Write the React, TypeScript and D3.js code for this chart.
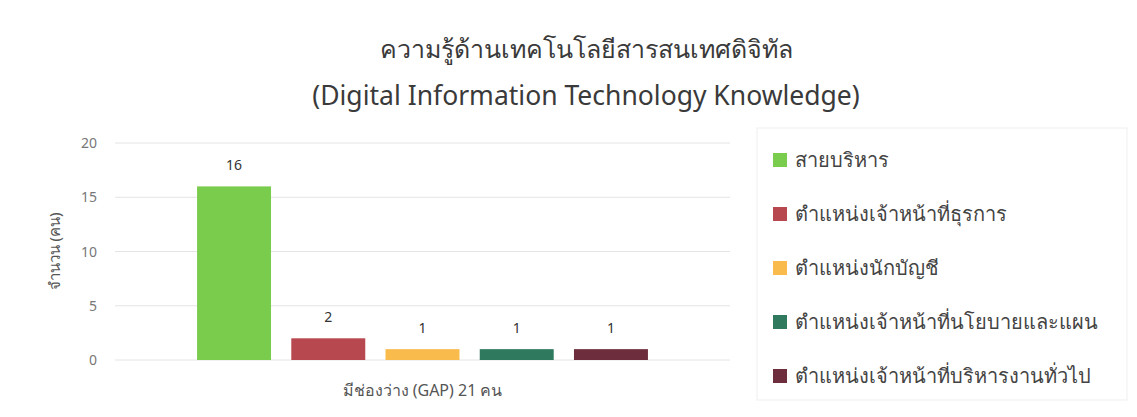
import React from "react";
import * as d3 from "d3";

const categories = ["มีช่องว่าง (GAP) 21 คน"];
const seriesNames = [
  "สายบริหาร",
  "ตำแหน่งเจ้าหน้าที่ธุรการ",
  "ตำแหน่งนักบัญชี",
  "ตำแหน่งเจ้าหน้าที่นโยบายและแผน",
  "ตำแหน่งเจ้าหน้าที่บริหารงานทั่วไป",
];
const seriesValues = [16, 2, 1, 1, 1];
const seriesColors = ["#79cc4c", "#b8484f", "#f9bb4c", "#2f7a5f", "#6e2d3c"];
const yTicks = [0, 5, 10, 15, 20];
const titleLines = ["ความรู้ด้านเทคโนโลยีสารสนเทศดิจิทัล", "(Digital Information Technology Knowledge)"];
const yTitle = "จำนวน (คน)";

const W = 1137;
const H = 417;
const plot = { left: 115, right: 730, top: 143, bottom: 360 };
const FONT = "'Noto Sans', 'DejaVu Sans', sans-serif";

export default function App() {
  const y = d3.scaleLinear().domain([0, 20]).range([plot.bottom, plot.top]);
  const x0 = d3.scaleBand().domain(categories).range([plot.left, plot.right]).paddingInner(0).paddingOuter(0.182);
  const x1 = d3
    .scaleBand()
    .domain(seriesNames)
    .range([0, x0.bandwidth()])
    .paddingInner(0.215)
    .paddingOuter(0);

  return (
    <svg width={W} height={H} style={{ position: "absolute", left: 0, top: 0, background: "#fff" }}>
      <rect x={0} y={0} width={W} height={H} fill="#ffffff" />
      {titleLines.map((t, i) => (
        <text
          key={i}
          x={586}
          y={i === 0 ? 58 : 105}
          textAnchor="middle"
          fontFamily={FONT}
          fontSize={i === 0 ? 25 : 26.5}
          fill="#3a3a3a"
        >
          {t}
        </text>
      ))}
      {yTicks.map((t) => (
        <g key={t}>
          <line x1={plot.left} x2={plot.right} y1={y(t)} y2={y(t)} stroke="#e4e4e4" strokeWidth={1} />
          <text x={97} y={y(t) + 5} textAnchor="end" fontFamily={FONT} fontSize={14} fill="#777">
            {t}
          </text>
        </g>
      ))}
      <text
        transform={`translate(60, ${(plot.top + plot.bottom) / 2}) rotate(-90)`}
        textAnchor="middle"
        fontFamily={FONT}
        fontSize={15}
        fill="#555"
      >
        {yTitle}
      </text>
      {categories.map((c) => (
        <g key={c}>
          {seriesNames.map((s, i) => {
            const bx = (x0(c) ?? 0) + (x1(s) ?? 0);
            const v = seriesValues[i];
            return (
              <g key={s}>
                <rect x={bx} y={y(v)} width={x1.bandwidth()} height={y(0) - y(v)} fill={seriesColors[i]} />
                <text
                  x={bx + x1.bandwidth() / 2}
                  y={y(v) - 16}
                  textAnchor="middle"
                  fontFamily={FONT}
                  fontSize={14}
                  fill="#333"
                >
                  {v}
                </text>
              </g>
            );
          })}
          <text
            x={(x0(c) ?? 0) + x0.bandwidth() / 2}
            y={396}
            textAnchor="middle"
            fontFamily={FONT}
            fontSize={16}
            fill="#555"
          >
            {c}
          </text>
        </g>
      ))}
      <rect x={757} y={128} width={370} height={272} fill="none" stroke="#efefef" strokeWidth={1} />
      {seriesNames.map((s, i) => (
        <g key={s} transform={`translate(773, ${160 + i * 54})`}>
          <rect x={0} y={-7} width={14} height={14} fill={seriesColors[i]} />
          <text x={22} y={7} fontFamily={FONT} fontSize={20} fill="#444">
            {s}
          </text>
        </g>
      ))}
    </svg>
  );
}
